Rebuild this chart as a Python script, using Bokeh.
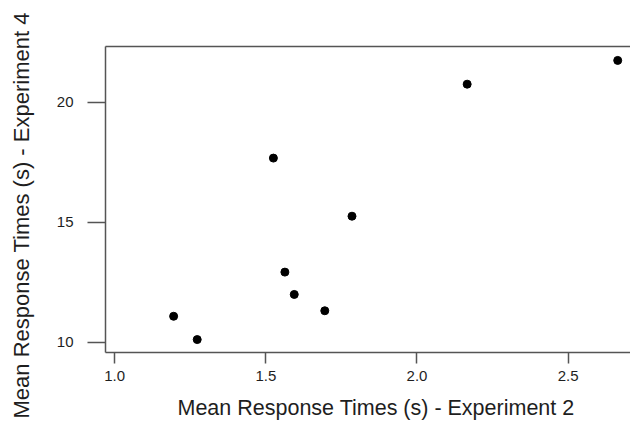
from bokeh.plotting import figure
from bokeh.models import (ColumnDataSource, FixedTicker, LinearAxis, Title, Range1d)
from bokeh.embed import file_html
from bokeh.resources import INLINE

# --- data ---
exp2_rt = [1.195, 1.273, 1.525, 1.563, 1.594, 1.695, 1.785, 2.166, 2.664]
exp4_rt = [11.08, 10.11, 17.67, 12.92, 11.99, 11.31, 15.25, 20.75, 21.74]

x_ticks = [1.0, 1.5, 2.0, 2.5]
x_tick_labels = ["1.0", "1.5", "2.0", "2.5"]
y_ticks = [10, 15, 20]
y_tick_labels = ["10", "15", "20"]

x_title = "Mean Response Times (s) - Experiment 2"
y_title = "Mean Response Times (s) - Experiment 4"

FONT = "Liberation Sans"
LINE = "#555555"
TXT = "#1e1e1e"

W, H = 630, 421
LEFT, TOP, BOTTOM = 105, 46, 69

p = figure(width=W, height=H, output_backend="svg", toolbar_location=None,
           x_range=Range1d(0.9696, 2.7063), y_range=Range1d(9.571, 22.32),
           x_axis_type=None, y_axis_type=None,
           min_border_left=LEFT, min_border_right=0,
           min_border_top=TOP, min_border_bottom=BOTTOM)
p.background_fill_color = "white"
p.border_fill_color = "white"
p.outline_line_color = None
p.xgrid.visible = False
p.ygrid.visible = False

# bottom axis
xa = LinearAxis(ticker=FixedTicker(ticks=x_ticks),
                major_label_overrides={t: l for t, l in zip(x_ticks, x_tick_labels)})
xa.axis_line_color = LINE
xa.axis_line_width = 1.5
xa.major_tick_line_color = LINE
xa.major_tick_line_width = 1.5
xa.major_tick_in = 0
xa.major_tick_out = 11
xa.minor_tick_line_color = None
xa.major_label_text_font = FONT
xa.major_label_text_font_size = "15px"
xa.major_label_text_color = TXT
xa.major_label_standoff = 7
# invisible spacer label to push the title outward
xa.axis_label = " "
xa.axis_label_text_font_size = "1px"
xa.axis_label_standoff = 6
p.add_layout(xa, "below")

# left axis
ya = LinearAxis(ticker=FixedTicker(ticks=y_ticks),
                major_label_overrides={t: l for t, l in zip(y_ticks, y_tick_labels)})
ya.axis_line_color = LINE
ya.axis_line_width = 1.5
ya.major_tick_line_color = LINE
ya.major_tick_line_width = 1.5
ya.major_tick_in = 0
ya.major_tick_out = 18
ya.minor_tick_line_color = None
ya.major_label_text_font = FONT
ya.major_label_text_font_size = "15px"
ya.major_label_text_color = TXT
ya.major_label_standoff = 14
ya.major_label_orientation = "horizontal"
ya.axis_label = " "
ya.axis_label_text_font_size = "1px"
ya.axis_label_standoff = 6
p.add_layout(ya, "left")

# top box line
ta = LinearAxis(ticker=FixedTicker(ticks=[]))
ta.axis_line_color = LINE
ta.axis_line_width = 1.5
ta.major_tick_line_color = None
ta.minor_tick_line_color = None
ta.major_label_text_font_size = "0px"
p.add_layout(ta, "above")

src = ColumnDataSource(data=dict(x=exp2_rt, y=exp4_rt))
p.scatter("x", "y", source=src, size=8, fill_color="black", line_color="black")

# axis titles
p.add_layout(Title(text=x_title, align="left", offset=72, text_font=FONT,
                   text_font_size="21.5px", text_font_style="normal",
                   vertical_align="bottom", standoff=0,
                   text_color=TXT), "below")
p.add_layout(Title(text=y_title, align="left", offset=-66, text_font=FONT,
                   text_font_size="22px", text_font_style="normal",
                   vertical_align="top", standoff=15,
                   text_color=TXT), "left")

open("out.html", "w").write(file_html(p, INLINE))
